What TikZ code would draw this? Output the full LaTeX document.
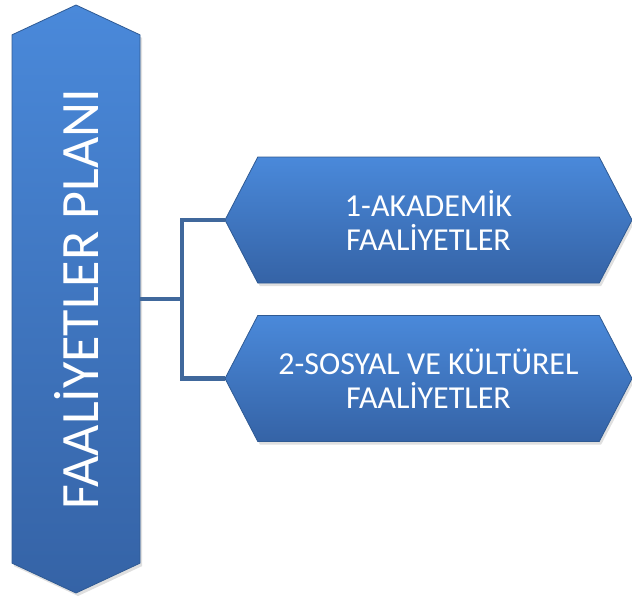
\documentclass[tikz,border=0pt]{standalone}
\usepackage{fontspec}
\setmainfont{Carlito}
\usetikzlibrary{shapes.symbols,shadows}
\definecolor{kutuacik}{HTML}{4A89DA}
\definecolor{kutukoyu}{HTML}{3563A6}
\definecolor{kutukenar}{HTML}{2F5A93}
\definecolor{baglanti}{HTML}{40689C}

\begin{document}
\begin{tikzpicture}[x=1pt, y=-1pt,
    kutu/.style={signal, signal to=west and east, draw=kutukenar, line width=0.8pt,
      top color=kutuacik, bottom color=kutukoyu,
      drop shadow={opacity=0.25, shadow xshift=2pt, shadow yshift=-3pt},
      text=white, align=center, inner sep=0pt},
    hat/.style={draw=baglanti, line width=4.5pt}]
    \useasboundingbox (0,0) rectangle (632,597);
    % sol dikey kutu
    \node[kutu, rotate=90, signal pointer angle=130, minimum width=588, minimum height=128,
      font=\fontsize{54}{60}\selectfont]
      (plan) at (76,299) {FAALİYETLER PLANI};
    % sag kutular
    \node[kutu, signal pointer angle=125, minimum width=407, minimum height=126,
      font=\fontsize{32}{34}\selectfont]
      (akademik) at (428.5,220) {1-AKADEMİK\\FAALİYETLER};
    \node[kutu, signal pointer angle=125, minimum width=407, minimum height=126,
      font=\fontsize{32}{34}\selectfont]
      (sosyal) at (428.5,378.5) {2-SOSYAL VE KÜLTÜREL\\FAALİYETLER};
    \coordinate (catal) at (182,299);
    \draw[hat] (plan.south) -- (catal);
    \draw[hat] (akademik.west) -| (catal) |- (sosyal.west);
\end{tikzpicture}
\end{document}
